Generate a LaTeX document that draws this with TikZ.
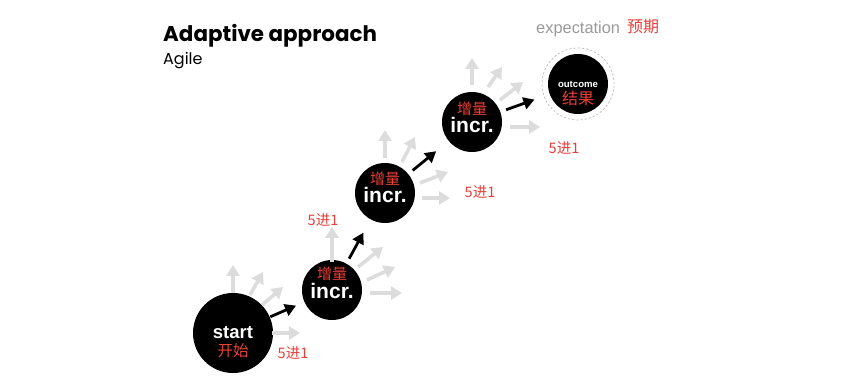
\documentclass[tikz,border=0pt]{standalone}
\usepackage{fontspec}
\setmainfont{Liberation Sans}
\newfontfamily\popp{Poppins}
\newfontfamily\cjk{Noto Sans CJK SC}
\usetikzlibrary{arrows.meta,calc}
\definecolor{myred}{HTML}{E8403A}
\definecolor{arrgray}{HTML}{DCDCDC}
\definecolor{txtgray}{HTML}{9A9A9A}
\definecolor{ringgray}{HTML}{BBBBBB}
\begin{document}
\begin{tikzpicture}[x=1pt,y=1pt,
  blob/.style={circle,fill=black,inner sep=0pt},
  bigblob/.style={blob,minimum size=80pt},
  smallblob/.style={blob,minimum size=60pt},
  garr/.style={draw=arrgray,line width=3.5pt,-{Triangle[length=11pt,width=13pt]}},
  barr/.style={draw=black,line width=2.8pt,-{Triangle[length=11pt,width=12pt]}},
  intxt/.style={inner sep=0pt,text=white,font=\bfseries\fontsize{21}{24}\selectfont},
  cjktxt/.style={inner sep=0pt,text=myred,font=\cjk\fontsize{15}{18}\selectfont},
  fivelab/.style={inner sep=0pt,text=myred,font=\cjk\fontsize{14.5}{17}\selectfont}]
\useasboundingbox (0,0) rectangle (856,391);
\fill[white] (0,0) rectangle (856,391);

% titles
\node[anchor=base west,inner sep=0pt] (title) at (163,349) {\popp\bfseries\fontsize{21.4}{24}\selectfont Adaptive approach};
\node[anchor=base west,inner sep=0pt] (sub) at (163,326) {\popp\fontsize{16}{19}\selectfont Agile};
\node[anchor=base west,inner sep=0pt,text=txtgray] (exp) at (536,357) {\fontsize{16.4}{19}\selectfont expectation};
\node[anchor=west,inner sep=0pt,text=myred] (expcn) at (627,364) {\cjk\fontsize{16}{19}\selectfont 预期};

% circles
\node[bigblob] (s) at (233,58) {};
\node[smallblob] (i1) at (332,101) {};
\node[smallblob] (i2) at (385,198) {};
\node[smallblob] (i3) at (472,269) {};
\node[smallblob] (o) at (578,307) {};
\draw[ringgray,line width=0.7pt,dash pattern=on 2.2pt off 2pt] (o) circle (36);

% texts in circles
\node[intxt,anchor=base,font=\bfseries\fontsize{18.5}{22}\selectfont] (st) at (233,53) {start};
\node[cjktxt,font=\cjk\fontsize{15.5}{18}\selectfont] (stcn) at (233,40) {开始};
\node[cjktxt] (i1cn) at (332,117) {增量};
\node[intxt,anchor=base] (i1t) at (332,93) {incr.};
\node[cjktxt] (i2cn) at (385,212) {增量};
\node[intxt,anchor=base] (i2t) at (385,188) {incr.};
\node[cjktxt] (i3cn) at (472,282) {增量};
\node[intxt,anchor=base] (i3t) at (472,258) {incr.};
\node[intxt,anchor=base,font=\bfseries\fontsize{9.6}{11}\selectfont] (ot) at (578,303) {outcome};
\node[cjktxt,font=\cjk\fontsize{16}{19}\selectfont] (ocn) at (578,293) {结果};

% gray fan arrows
\foreach \a/\b/\c/\d in {0/40/0/68, 17/38/30/61, 29/28/50/46, 39/0/67/0}
  \draw[garr] ($(s)+(\a,\b)$) -- ($(s)+(\c,\d)$);
\foreach \a/\b/\c/\d in {0/28/0/63, 26/23/51/43, 35/10/63/23, 38/-3/70/-3}
  \draw[garr] ($(i1)+(\a,\b)$) -- ($(i1)+(\c,\d)$);
\foreach \a/\b/\c/\d in {0/35/0/63, 17/31/30/56, 35/10/63/21, 37/-5/65/-5}
  \draw[garr] ($(i2)+(\a,\b)$) -- ($(i2)+(\c,\d)$);
\foreach \a/\b/\c/\d in {0/37/0/64, 16/35/30/55, 28/22/51/40, 38/-5/68/-5}
  \draw[garr] ($(i3)+(\a,\b)$) -- ($(i3)+(\c,\d)$);

% black progress arrows
\draw[barr,shorten <=0.5pt,shorten >=9pt] (s) -- (i1);
\draw[barr,shorten <=5.5pt,shorten >=15pt] (i1) -- (i2);
\draw[barr,shorten <=5.5pt,shorten >=16pt] (i2) -- (i3);
\draw[barr,shorten <=6pt,shorten >=16pt] (i3) -- (o);

% 5进1 labels
\node[fivelab] (l1) at (293,38) {5进1};
\node[fivelab] (l2) at (323,171) {5进1};
\node[fivelab] (l3) at (480,199) {5进1};
\node[fivelab] (l4) at (564,243) {5进1};
\end{tikzpicture}
\end{document}
